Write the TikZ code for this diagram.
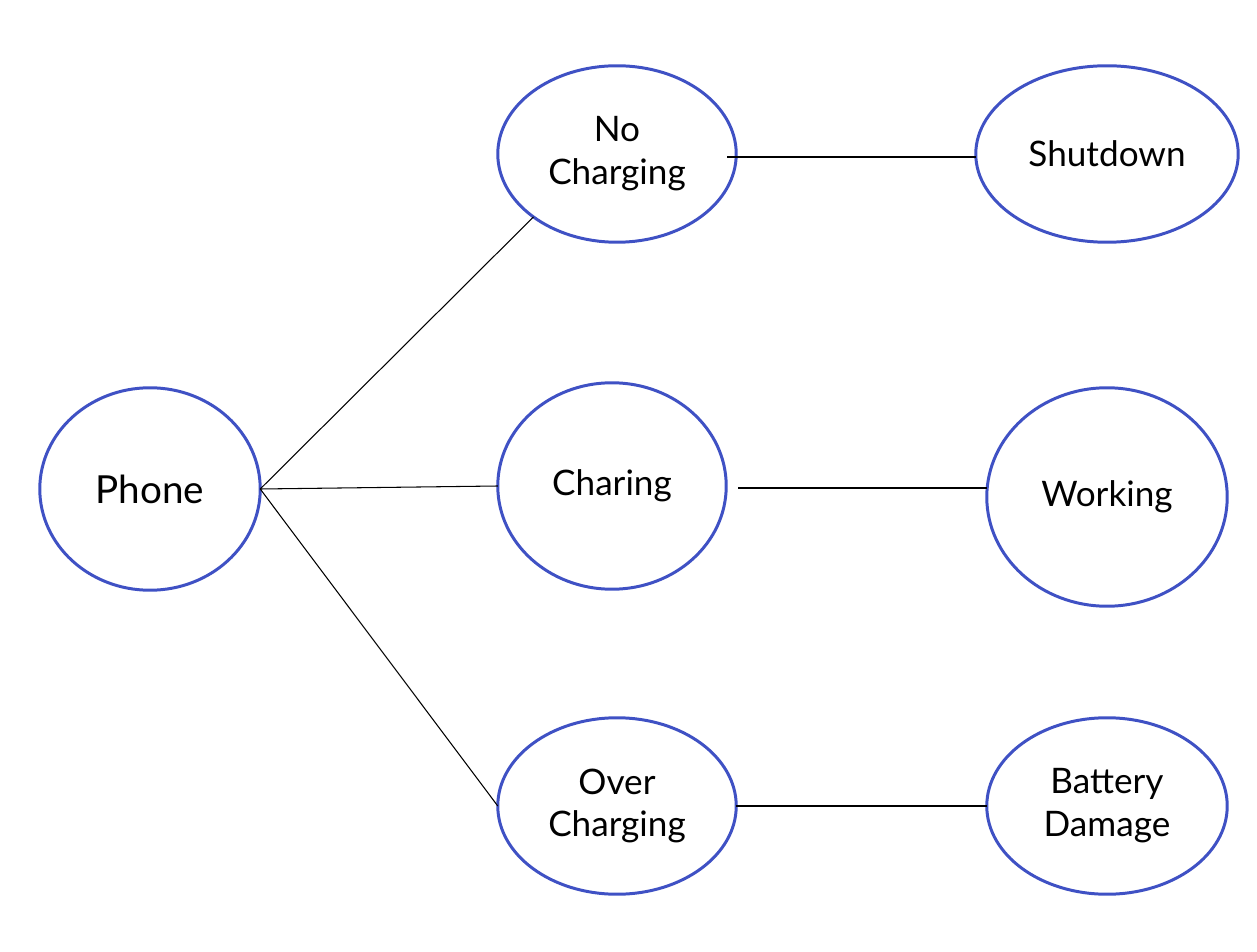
\documentclass[tikz,border=0pt]{standalone}
\usepackage{fontspec}
\setmainfont{Lato}
\usetikzlibrary{shapes.geometric}
\definecolor{ovalblue}{RGB}{63,81,196}
\tikzset{
  oval/.style={ellipse,draw=ovalblue,line width=1.7pt,inner sep=0pt,outer sep=0pt,
    align=center,font=\fontsize{20}{24.4}\selectfont},
  link/.style={draw=black,line width=0.6pt}
}

\begin{document}
\begin{tikzpicture}[x=0.02cm,y=-0.02cm]
            \useasboundingbox (0,0) rectangle (1257,952);
            % states
            \node[oval,minimum width=4.41cm,minimum height=4.05cm,font=\fontsize{22}{26}\selectfont] (phone) at (150,489) {Phone};
            \node[oval,minimum width=4.77cm,minimum height=3.53cm] (nocharging) at (617,154) {No\\Charging};
            \node[oval,minimum width=4.57cm,minimum height=4.13cm] (charing) at (612,486) {Charing};
            \node[oval,minimum width=4.77cm,minimum height=3.53cm] (overcharging) at (617,806) {Over\\Charging};
            \node[oval,minimum width=5.25cm,minimum height=3.53cm] (shutdown) at (1107,154) {Shutdown};
            \node[oval,minimum width=4.81cm,minimum height=4.37cm] (working) at (1107,497) {Working};
            \node[oval,minimum width=4.81cm,minimum height=3.53cm] (battery) at (1107,806) {Battery\\Damage};
            % loose line ends
            \coordinate (ncout) at (727,157);
            \coordinate (chout) at (738,488);
            \begin{scope}[link]
                \draw (phone.east) -- (nocharging.-143);
                \draw (phone.east) -- (charing.west);
                \draw (phone.east) -- (overcharging.west);
                \draw (ncout) -- (ncout -| shutdown.west);
                \draw (chout) -- (chout -| working.west);
                \draw (overcharging.east) -- (battery.west);
            \end{scope}
        \end{tikzpicture}
\end{document}
